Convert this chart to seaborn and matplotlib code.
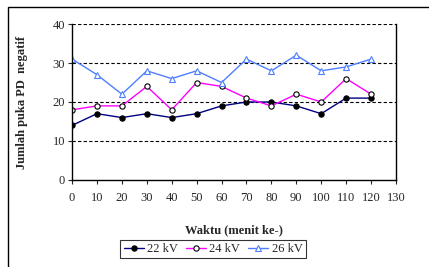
import matplotlib
matplotlib.use("Agg")
import matplotlib.pyplot as plt
import seaborn as sns
import pandas as pd
from matplotlib.patches import Rectangle

waktu = [0, 10, 20, 30, 40, 50, 60, 70, 80, 90, 100, 110, 120]
kv22 = [14, 17, 16, 17, 16, 17, 19, 20, 20, 19, 17, 21, 21]
kv24 = [18, 19, 19, 24, 18, 25, 24, 21, 19, 22, 20, 26, 22]
kv26 = [31, 27, 22, 28, 26, 28, 25, 31, 28, 32, 28, 29, 31]
labels = ["22 kV", "24 kV", "26 kV"]

sns.set_style("white")
plt.rcParams['font.family'] = ['Liberation Serif', 'DejaVu Serif']

fig = plt.figure(figsize=(4.29, 2.67), dpi=100)
ax = fig.add_axes([0.168, 0.326, 0.755, 0.584])

fig.patches.append(Rectangle((8/429, -0.1), 1.0, 1 - 7/267 + 0.1, transform=fig.transFigure,
                             fill=False, edgecolor='black', linewidth=1.0))

styles = [
    (kv22, labels[0], '#000080', 'o', 'black', 'black'),
    (kv24, labels[1], '#FF00FF', 'o', 'white', 'black'),
    (kv26, labels[2], '#4F7FFF', '^', 'white', '#4F7FFF'),
]
for vals, lab, col, mk, mfc, mec in styles:
    df = pd.DataFrame({'Waktu': waktu, 'v': vals})
    sns.lineplot(data=df, x='Waktu', y='v', ax=ax, color=col, linewidth=1.0,
                 marker=mk, markersize=3.8, markerfacecolor=mfc, markeredgecolor=mec,
                 markeredgewidth=0.8, label=lab, legend=False)

ax.set_xlim(0, 130)
ax.set_ylim(0, 40)
ax.set_xticks(range(0, 131, 10))
ax.set_yticks(range(0, 41, 10))
ax.tick_params(axis='both', labelsize=9, length=3, direction='out', bottom=True, left=True, pad=2)
ax.tick_params(axis='x', pad=6)
for y in [10, 20, 30, 40]:
    ax.axhline(y, color='black', linestyle=(0, (3, 2)), linewidth=0.8, zorder=0)
ax.spines['top'].set_visible(False)
for s in ['left', 'bottom', 'right']:
    ax.spines[s].set_color('black')
    ax.spines[s].set_linewidth(1.0)
ax.set_xlabel('Waktu (menit ke-)', fontsize=9, fontweight='bold', labelpad=14)
ax.set_ylabel('Jumlah puka PD  negatif', fontsize=9, fontweight='bold', labelpad=18)

h, l = ax.get_legend_handles_labels()
leg = fig.legend(h, l, loc='center', bbox_to_anchor=(213/429, 1 - 249/267), ncol=3,
                 fontsize=9, frameon=True, fancybox=False, edgecolor='black',
                 handlelength=1.6, handletextpad=0.3, columnspacing=0.6,
                 borderpad=0.25, borderaxespad=0)
leg.get_frame().set_linewidth(0.8)

fig.savefig('out.png', dpi=100)
